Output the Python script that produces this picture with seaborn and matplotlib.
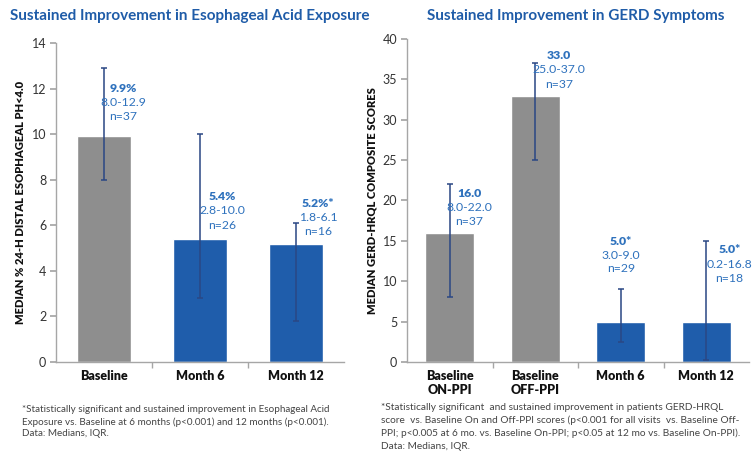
import numpy as np
import pandas as pd
import matplotlib
matplotlib.use('Agg')
import matplotlib.pyplot as plt
import seaborn as sns

# data - left panel (esophageal acid exposure)
acid_groups = ['Baseline', 'Month 6', 'Month 12']
acid_median = [9.9, 5.4, 5.2]
acid_low = [8.0, 2.8, 1.8]
acid_high = [12.9, 10.0, 6.1]
acid_labels = ['9.9%', '5.4%', '5.2%*']
acid_ranges = ['8.0-12.9', '2.8-10.0', '1.8-6.1']
acid_n = ['n=37', 'n=26', 'n=16']

# data - right panel (GERD-HRQL)
gerd_groups = ['Baseline\nON-PPI', 'Baseline\nOFF-PPI', 'Month 6', 'Month 12']
gerd_median = [16.0, 33.0, 5.0, 5.0]
gerd_low = [8.0, 25.0, 2.5, 0.2]
gerd_high = [22.0, 37.0, 9.0, 15.0]
gerd_labels = ['16.0', '33.0', '5.0*', '5.0*']
gerd_ranges = ['8.0-22.0', '25.0-37.0', '3.0-9.0', '0.2-16.8']
gerd_n = ['n=37', 'n=37', 'n=29', 'n=18']

GRAY = '#8e8e8e'
BLUE = '#1f5dab'
ERR = '#2a4784'
TXT = '#2f72bd'
TITLE = '#1f5ca8'

sns.set_theme(style='white')
plt.rcParams['font.family'] = ['Lato', 'DejaVu Sans']

fig = plt.figure(figsize=(7.52, 4.54), dpi=100)
W, H = 752, 454


def px_axes(x0, y0, x1, y1):
    return fig.add_axes([x0 / W, 1 - y1 / H, (x1 - x0) / W, (y1 - y0) / H])


def draw_panel(ax, groups, med, low, high, labels, ranges, ns, colors, ymax, ystep,
               ylabel, text_pos):
    df = pd.DataFrame({'group': groups, 'value': med})
    sns.barplot(data=df, x='group', y='value', hue='group', palette=colors,
                width=0.57, legend=False, ax=ax, saturation=1)
    x = np.arange(len(groups))
    med = np.array(med)
    yerr = [med - np.array(low), np.array(high) - med]
    ax.errorbar(x, med, yerr=yerr, fmt='none', ecolor=ERR, elinewidth=1.1,
                capsize=2.5, capthick=1.1)
    for i, (dx, y0, dy) in enumerate(text_pos):
        ax.text(i + dx, y0, labels[i], ha='center', va='center', color=TXT,
                fontsize=8.8, fontweight='heavy')
        ax.text(i + dx, y0 - dy, ranges[i], ha='center', va='center', color=TXT,
                fontsize=8.8)
        ax.text(i + dx, y0 - 2 * dy, ns[i], ha='center', va='center', color=TXT,
                fontsize=8.8)
    ax.set_xlim(-0.5, len(groups) - 0.5)
    ax.set_ylim(0, ymax)
    ax.set_yticks(np.arange(0, ymax + 0.1, ystep))
    ax.set_xlabel('')
    ax.set_ylabel(ylabel, fontsize=8, fontweight='heavy', color='#111111')
    for s in ['top', 'right']:
        ax.spines[s].set_visible(False)
    for s in ['left', 'bottom']:
        ax.spines[s].set_color('#a6a6a6')
        ax.spines[s].set_linewidth(1.0)
    ax.tick_params(axis='y', left=True, length=4, color='#a6a6a6', labelsize=9,
                   labelcolor='#333333', pad=3)
    ax.tick_params(axis='x', length=0, labelsize=9, pad=6)
    for lab in ax.get_xticklabels():
        lab.set_fontweight('heavy')
        lab.set_color('#111111')
    ax.set_xticks(np.arange(0.5, len(groups) - 0.5, 1), minor=True)
    ax.tick_params(axis='x', which='minor', bottom=True, length=4, color='#a6a6a6')


axL = px_axes(56, 43, 344, 362)
draw_panel(axL, acid_groups, acid_median, acid_low, acid_high, acid_labels,
           acid_ranges, acid_n, [GRAY, BLUE, BLUE], 14, 2,
           'MEDIAN % 24-H DISTAL ESOPHAGEAL PH<4.0',
           [(0.2, 12.0, 0.62), (0.23, 7.25, 0.62), (0.23, 6.97, 0.62)])

axR = px_axes(407, 39, 749, 362)
draw_panel(axR, gerd_groups, gerd_median, gerd_low, gerd_high, gerd_labels,
           gerd_ranges, gerd_n, [GRAY, GRAY, BLUE, BLUE], 40, 5,
           'MEDIAN GERD-HRQL COMPOSITE SCORES',
           [(0.23, 20.9, 1.75), (0.28, 38.0, 1.8), (0.0, 14.9, 1.65), (0.27, 13.9, 1.8)])

fig.text(190 / W, 1 - 16 / H, 'Sustained Improvement in Esophageal Acid Exposure',
         ha='center', va='center', color=TITLE, fontsize=11, fontweight='bold')
fig.text(576 / W, 1 - 16 / H, 'Sustained Improvement in GERD Symptoms',
         ha='center', va='center', color=TITLE, fontsize=11, fontweight='bold')

left_note = ['*Statistically significant and sustained improvement in Esophageal Acid',
             'Exposure vs. Baseline at 6 months (p<0.001) and 12 months (p<0.001).',
             'Data: Medians, IQR.']
for i, line in enumerate(left_note):
    fig.text(22 / W, 1 - (410 + 12 * i) / H, line, ha='left', va='center',
             fontsize=7.1, color='#444444')

right_note = ['*Statistically significant  and sustained improvement in patients GERD-HRQL',
              'score  vs. Baseline On and Off-PPI scores (p<0.001 for all visits  vs. Baseline Off-',
              'PPI; p<0.005 at 6 mo. vs. Baseline On-PPI; p<0.05 at 12 mo vs. Baseline On-PPI).',
              'Data: Medians, IQR.']
for i, line in enumerate(right_note):
    fig.text(381 / W, 1 - (408 + 12.7 * i) / H, line, ha='left', va='center',
             fontsize=7.3, color='#444444')

fig.savefig('out.png', dpi=100)
